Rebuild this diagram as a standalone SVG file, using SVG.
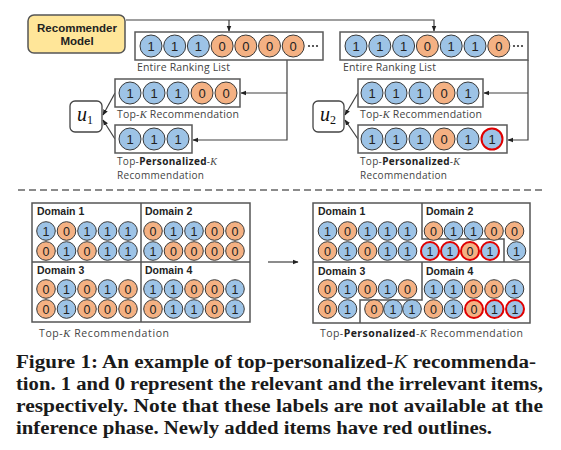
<svg xmlns="http://www.w3.org/2000/svg" width="561" height="450" viewBox="0 0 561 450">
<defs>
<style>
.bx{fill:#fff;stroke:#595959;stroke-width:1.5}
.b{fill:#9DC3E6;stroke:#3a3a3a;stroke-width:1}
.o{fill:#F4B183;stroke:#3a3a3a;stroke-width:1}
.r{stroke:#E00000;stroke-width:2}
.d{font-family:"Liberation Sans",Arial,sans-serif;font-size:13px;text-anchor:middle;fill:#222}
.ds{font-family:"Liberation Sans",Arial,sans-serif;font-size:12.5px;text-anchor:middle;fill:#222}
.lb{font-family:"Open Sans","Liberation Sans",sans-serif;font-size:10.5px;fill:#444}
.lb2{font-family:"Open Sans","Liberation Sans",sans-serif;font-size:10px;fill:#444}
.dm{font-family:"Liberation Sans",Arial,sans-serif;font-size:10.5px;font-weight:bold;fill:#222}
.mk{font-family:"Liberation Serif",serif;font-style:italic;font-weight:normal}
.cap{font-family:"Liberation Serif","Times New Roman",serif;font-size:18px;font-weight:bold;fill:#1a1a1a}
.ln{fill:none;stroke:#404040;stroke-width:1.2}
</style>
<marker id="ah" viewBox="0 0 10 10" refX="9" refY="5" markerWidth="5" markerHeight="5" orient="auto">
<path d="M0,1 L10,5 L0,9 z" fill="#222"/>
</marker>
</defs>
<rect width="561" height="450" fill="#fff"/>

<g id="connectors">
<path class="ln" d="M126,20 H434 V31" marker-end="url(#ah)"/>
<path class="ln" d="M229,20 V31" marker-end="url(#ah)"/>
<path class="ln" d="M287,60 V140 H193" marker-end="url(#ah)"/>
<path class="ln" d="M287,93 H241" marker-end="url(#ah)"/>
<path class="ln" d="M528,60 V140 H508" marker-end="url(#ah)"/>
<path class="ln" d="M528,93 H484" marker-end="url(#ah)"/>
<path class="ln" d="M115,93 L103,115" marker-end="url(#ah)"/>
<path class="ln" d="M115,139 L103,120" marker-end="url(#ah)"/>
<path class="ln" d="M358,93 L345,115" marker-end="url(#ah)"/>
<path class="ln" d="M358,139 L345,120" marker-end="url(#ah)"/>
<path class="ln" d="M268,262 H298" marker-end="url(#ah)"/>
<path d="M18,190 H545" stroke="#666" stroke-width="1.3" stroke-dasharray="7 4" fill="none"/>
</g>

<g id="recommender-model">
<rect x="28" y="15" width="97" height="38" rx="6" fill="#FFE699" stroke="#555" stroke-width="1.5"/>
<text x="77" y="32" text-anchor="middle" style="font-family:'Liberation Sans',Arial,sans-serif;font-size:11.5px;font-weight:bold;fill:#222">Recommender</text>
<text x="77" y="45" text-anchor="middle" style="font-family:'Liberation Sans',Arial,sans-serif;font-size:11.5px;font-weight:bold;fill:#222">Model</text>
</g>

<g id="ranking-list-1">
<rect class="bx" x="135" y="32" width="188" height="28"/>
<circle class="b" cx="151" cy="46" r="11"/><text class="d" x="151" y="50.5">1</text>
<circle class="b" cx="174.7" cy="46" r="11"/><text class="d" x="174.7" y="50.5">1</text>
<circle class="b" cx="198.4" cy="46" r="11"/><text class="d" x="198.4" y="50.5">1</text>
<circle class="o" cx="222.1" cy="46" r="11"/><text class="d" x="222.1" y="50.5">0</text>
<circle class="o" cx="245.8" cy="46" r="11"/><text class="d" x="245.8" y="50.5">0</text>
<circle class="o" cx="269.5" cy="46" r="11"/><text class="d" x="269.5" y="50.5">0</text>
<circle class="o" cx="293.2" cy="46" r="11"/><text class="d" x="293.2" y="50.5">0</text>
<circle cx="309" cy="46" r="1.1" fill="#333"/><circle cx="313" cy="46" r="1.1" fill="#333"/><circle cx="317" cy="46" r="1.1" fill="#333"/>
<text class="lb" x="137" y="71" textLength="93">Entire Ranking List</text>
</g>

<g id="ranking-list-2">
<rect class="bx" x="340" y="32" width="188" height="28"/>
<circle class="b" cx="356" cy="46" r="11"/><text class="d" x="356" y="50.5">1</text>
<circle class="b" cx="379.8" cy="46" r="11"/><text class="d" x="379.8" y="50.5">1</text>
<circle class="b" cx="403.6" cy="46" r="11"/><text class="d" x="403.6" y="50.5">1</text>
<circle class="o" cx="427.4" cy="46" r="11"/><text class="d" x="427.4" y="50.5">0</text>
<circle class="b" cx="451.2" cy="46" r="11"/><text class="d" x="451.2" y="50.5">1</text>
<circle class="b" cx="475" cy="46" r="11"/><text class="d" x="475" y="50.5">1</text>
<circle class="o" cx="498.8" cy="46" r="11"/><text class="d" x="498.8" y="50.5">0</text>
<circle cx="514" cy="46" r="1.1" fill="#333"/><circle cx="518" cy="46" r="1.1" fill="#333"/><circle cx="522" cy="46" r="1.1" fill="#333"/>
<text class="lb" x="343" y="71" textLength="93">Entire Ranking List</text>
</g>

<g id="topk-1">
<rect class="bx" x="115" y="79" width="125" height="28"/>
<circle class="b" cx="130" cy="93" r="11"/><text class="d" x="130" y="97.5">1</text>
<circle class="b" cx="154" cy="93" r="11"/><text class="d" x="154" y="97.5">1</text>
<circle class="b" cx="178" cy="93" r="11"/><text class="d" x="178" y="97.5">1</text>
<circle class="o" cx="202" cy="93" r="11"/><text class="d" x="202" y="97.5">0</text>
<circle class="o" cx="226" cy="93" r="11"/><text class="d" x="226" y="97.5">0</text>
<text class="lb" x="117" y="118" textLength="122">Top-<tspan class="mk">K</tspan> Recommendation</text>
</g>

<g id="toppk-1">
<rect class="bx" x="115" y="125" width="77" height="28"/>
<circle class="b" cx="130" cy="139" r="11"/><text class="d" x="130" y="143.5">1</text>
<circle class="b" cx="154" cy="139" r="11"/><text class="d" x="154" y="143.5">1</text>
<circle class="b" cx="178" cy="139" r="11"/><text class="d" x="178" y="143.5">1</text>
<text class="lb2" x="117" y="165" textLength="100">Top-<tspan font-weight="bold" fill="#222">Personalized</tspan>-<tspan class="mk">K</tspan></text>
<text class="lb2" x="117" y="178.5" textLength="87">Recommendation</text>
</g>

<g id="user-1">
<rect x="70" y="101" width="32" height="31" rx="5" fill="#fff" stroke="#444" stroke-width="1.3"/>
<text x="85" y="121" text-anchor="middle" style="font-family:'Liberation Serif',serif;font-style:italic;font-size:20px;fill:#111">u<tspan font-style="normal" font-size="12" dy="3">1</tspan></text>
</g>

<g id="topk-2">
<rect class="bx" x="358" y="79" width="125" height="28"/>
<circle class="b" cx="372" cy="93" r="11"/><text class="d" x="372" y="97.5">1</text>
<circle class="b" cx="396" cy="93" r="11"/><text class="d" x="396" y="97.5">1</text>
<circle class="b" cx="420" cy="93" r="11"/><text class="d" x="420" y="97.5">1</text>
<circle class="o" cx="444" cy="93" r="11"/><text class="d" x="444" y="97.5">0</text>
<circle class="b" cx="468" cy="93" r="11"/><text class="d" x="468" y="97.5">1</text>
<text class="lb" x="360" y="118" textLength="122">Top-<tspan class="mk">K</tspan> Recommendation</text>
</g>

<g id="toppk-2">
<rect class="bx" x="358" y="125" width="149" height="28"/>
<circle class="b" cx="372" cy="139" r="11"/><text class="d" x="372" y="143.5">1</text>
<circle class="b" cx="396" cy="139" r="11"/><text class="d" x="396" y="143.5">1</text>
<circle class="b" cx="420" cy="139" r="11"/><text class="d" x="420" y="143.5">1</text>
<circle class="o" cx="444" cy="139" r="11"/><text class="d" x="444" y="143.5">0</text>
<circle class="b" cx="468" cy="139" r="11"/><text class="d" x="468" y="143.5">1</text>
<circle class="b r" cx="492" cy="139" r="10.5"/><text class="d" x="492" y="143.5">1</text>
<text class="lb2" x="360" y="165" textLength="100">Top-<tspan font-weight="bold" fill="#222">Personalized</tspan>-<tspan class="mk">K</tspan></text>
<text class="lb2" x="360" y="178.5" textLength="87">Recommendation</text>
</g>

<g id="user-2">
<rect x="313" y="101" width="31" height="31" rx="5" fill="#fff" stroke="#444" stroke-width="1.3"/>
<text x="328" y="121" text-anchor="middle" style="font-family:'Liberation Serif',serif;font-style:italic;font-size:20px;fill:#111">u<tspan font-style="normal" font-size="12" dy="3">2</tspan></text>
</g>

<g id="grid-topk">
<rect x="32" y="203" width="218" height="119" fill="#fff" stroke="#555" stroke-width="1.5"/>
<path d="M141,203 V322 M32,262 H250" stroke="#555" stroke-width="1.5" fill="none"/>
<text class="dm" x="37" y="215">Domain 1</text>
<text class="dm" x="145" y="215">Domain 2</text>
<text class="dm" x="37" y="274">Domain 3</text>
<text class="dm" x="145" y="274">Domain 4</text>
<circle class="b" cx="46" cy="231" r="9.3"/><text class="ds" x="46" y="235.5">1</text>
<circle class="o" cx="66.5" cy="231" r="9.3"/><text class="ds" x="66.5" y="235.5">0</text>
<circle class="b" cx="87" cy="231" r="9.3"/><text class="ds" x="87" y="235.5">1</text>
<circle class="b" cx="107.5" cy="231" r="9.3"/><text class="ds" x="107.5" y="235.5">1</text>
<circle class="b" cx="128" cy="231" r="9.3"/><text class="ds" x="128" y="235.5">1</text>
<circle class="o" cx="153" cy="231" r="9.3"/><text class="ds" x="153" y="235.5">0</text>
<circle class="b" cx="173.5" cy="231" r="9.3"/><text class="ds" x="173.5" y="235.5">1</text>
<circle class="b" cx="194" cy="231" r="9.3"/><text class="ds" x="194" y="235.5">1</text>
<circle class="o" cx="214.5" cy="231" r="9.3"/><text class="ds" x="214.5" y="235.5">0</text>
<circle class="o" cx="235" cy="231" r="9.3"/><text class="ds" x="235" y="235.5">0</text>

<circle class="o" cx="46" cy="251" r="9.3"/><text class="ds" x="46" y="255.5">0</text>
<circle class="b" cx="66.5" cy="251" r="9.3"/><text class="ds" x="66.5" y="255.5">1</text>
<circle class="o" cx="87" cy="251" r="9.3"/><text class="ds" x="87" y="255.5">0</text>
<circle class="b" cx="107.5" cy="251" r="9.3"/><text class="ds" x="107.5" y="255.5">1</text>
<circle class="b" cx="128" cy="251" r="9.3"/><text class="ds" x="128" y="255.5">1</text>
<circle class="b" cx="153" cy="251" r="9.3"/><text class="ds" x="153" y="255.5">1</text>
<circle class="o" cx="173.5" cy="251" r="9.3"/><text class="ds" x="173.5" y="255.5">0</text>
<circle class="o" cx="194" cy="251" r="9.3"/><text class="ds" x="194" y="255.5">0</text>
<circle class="o" cx="214.5" cy="251" r="9.3"/><text class="ds" x="214.5" y="255.5">0</text>
<circle class="o" cx="235" cy="251" r="9.3"/><text class="ds" x="235" y="255.5">0</text>

<circle class="o" cx="46" cy="289" r="9.3"/><text class="ds" x="46" y="293.5">0</text>
<circle class="b" cx="66.5" cy="289" r="9.3"/><text class="ds" x="66.5" y="293.5">1</text>
<circle class="o" cx="87" cy="289" r="9.3"/><text class="ds" x="87" y="293.5">0</text>
<circle class="b" cx="107.5" cy="289" r="9.3"/><text class="ds" x="107.5" y="293.5">1</text>
<circle class="o" cx="128" cy="289" r="9.3"/><text class="ds" x="128" y="293.5">0</text>
<circle class="b" cx="153" cy="289" r="9.3"/><text class="ds" x="153" y="293.5">1</text>
<circle class="b" cx="173.5" cy="289" r="9.3"/><text class="ds" x="173.5" y="293.5">1</text>
<circle class="o" cx="194" cy="289" r="9.3"/><text class="ds" x="194" y="293.5">0</text>
<circle class="o" cx="214.5" cy="289" r="9.3"/><text class="ds" x="214.5" y="293.5">0</text>
<circle class="b" cx="235" cy="289" r="9.3"/><text class="ds" x="235" y="293.5">1</text>

<circle class="o" cx="46" cy="309" r="9.3"/><text class="ds" x="46" y="313.5">0</text>
<circle class="b" cx="66.5" cy="309" r="9.3"/><text class="ds" x="66.5" y="313.5">1</text>
<circle class="o" cx="87" cy="309" r="9.3"/><text class="ds" x="87" y="313.5">0</text>
<circle class="o" cx="107.5" cy="309" r="9.3"/><text class="ds" x="107.5" y="313.5">0</text>
<circle class="o" cx="128" cy="309" r="9.3"/><text class="ds" x="128" y="313.5">0</text>
<circle class="o" cx="153" cy="309" r="9.3"/><text class="ds" x="153" y="313.5">0</text>
<circle class="b" cx="173.5" cy="309" r="9.3"/><text class="ds" x="173.5" y="313.5">1</text>
<circle class="b" cx="194" cy="309" r="9.3"/><text class="ds" x="194" y="313.5">1</text>
<circle class="o" cx="214.5" cy="309" r="9.3"/><text class="ds" x="214.5" y="313.5">0</text>
<circle class="b" cx="235" cy="309" r="9.3"/><text class="ds" x="235" y="313.5">1</text>
<text class="lb" x="39" y="337" font-size="11" textLength="130">Top-<tspan class="mk">K</tspan> Recommendation</text>
</g>

<g id="grid-toppk">
<rect x="313" y="203" width="217" height="120" fill="#fff" stroke="#555" stroke-width="1.5"/>
<path d="M422,203 V239 H504 V262 M313,262 H530 M422,262 V300 H360 V323" stroke="#555" stroke-width="1.5" fill="none"/>
<text class="dm" x="318" y="215">Domain 1</text>
<text class="dm" x="426" y="215">Domain 2</text>
<text class="dm" x="318" y="275">Domain 3</text>
<text class="dm" x="426" y="275">Domain 4</text>
<circle class="b" cx="327.5" cy="231" r="9.3"/><text class="ds" x="327.5" y="235.5">1</text>
<circle class="o" cx="347.5" cy="231" r="9.3"/><text class="ds" x="347.5" y="235.5">0</text>
<circle class="b" cx="367.5" cy="231" r="9.3"/><text class="ds" x="367.5" y="235.5">1</text>
<circle class="b" cx="387.5" cy="231" r="9.3"/><text class="ds" x="387.5" y="235.5">1</text>
<circle class="b" cx="407.5" cy="231" r="9.3"/><text class="ds" x="407.5" y="235.5">1</text>
<circle class="o" cx="433.5" cy="231" r="9.3"/><text class="ds" x="433.5" y="235.5">0</text>
<circle class="b" cx="453.5" cy="231" r="9.3"/><text class="ds" x="453.5" y="235.5">1</text>
<circle class="b" cx="473.5" cy="231" r="9.3"/><text class="ds" x="473.5" y="235.5">1</text>
<circle class="o" cx="494" cy="231" r="9.3"/><text class="ds" x="494" y="235.5">0</text>
<circle class="o" cx="514.5" cy="231" r="9.3"/><text class="ds" x="514.5" y="235.5">0</text>

<circle class="o" cx="327.5" cy="251" r="9.3"/><text class="ds" x="327.5" y="255.5">0</text>
<circle class="b" cx="347.5" cy="251" r="9.3"/><text class="ds" x="347.5" y="255.5">1</text>
<circle class="o" cx="367.5" cy="251" r="9.3"/><text class="ds" x="367.5" y="255.5">0</text>
<circle class="b" cx="387.5" cy="251" r="9.3"/><text class="ds" x="387.5" y="255.5">1</text>
<circle class="b" cx="407.5" cy="251" r="9.3"/><text class="ds" x="407.5" y="255.5">1</text>
<circle class="b r" cx="430" cy="251" r="9"/><text class="ds" x="430" y="255.5">1</text>
<circle class="b r" cx="450" cy="251" r="9"/><text class="ds" x="450" y="255.5">1</text>
<circle class="o r" cx="470" cy="251" r="9"/><text class="ds" x="470" y="255.5">0</text>
<circle class="b r" cx="490" cy="251" r="9"/><text class="ds" x="490" y="255.5">1</text>
<circle class="b" cx="516.5" cy="251" r="9.3"/><text class="ds" x="516.5" y="255.5">1</text>

<circle class="o" cx="327.5" cy="289" r="9.3"/><text class="ds" x="327.5" y="293.5">0</text>
<circle class="b" cx="347.5" cy="289" r="9.3"/><text class="ds" x="347.5" y="293.5">1</text>
<circle class="o" cx="367.5" cy="289" r="9.3"/><text class="ds" x="367.5" y="293.5">0</text>
<circle class="b" cx="387.5" cy="289" r="9.3"/><text class="ds" x="387.5" y="293.5">1</text>
<circle class="o" cx="407.5" cy="289" r="9.3"/><text class="ds" x="407.5" y="293.5">0</text>
<circle class="b" cx="433.5" cy="289" r="9.3"/><text class="ds" x="433.5" y="293.5">1</text>
<circle class="b" cx="453.5" cy="289" r="9.3"/><text class="ds" x="453.5" y="293.5">1</text>
<circle class="o" cx="473.5" cy="289" r="9.3"/><text class="ds" x="473.5" y="293.5">0</text>
<circle class="o" cx="494" cy="289" r="9.3"/><text class="ds" x="494" y="293.5">0</text>
<circle class="b" cx="514.5" cy="289" r="9.3"/><text class="ds" x="514.5" y="293.5">1</text>

<circle class="o" cx="327.5" cy="309" r="9.3"/><text class="ds" x="327.5" y="313.5">0</text>
<circle class="b" cx="347.5" cy="309" r="9.3"/><text class="ds" x="347.5" y="313.5">1</text>
<circle class="o" cx="374" cy="309" r="9.3"/><text class="ds" x="374" y="313.5">0</text>
<circle class="b" cx="393" cy="309" r="9.3"/><text class="ds" x="393" y="313.5">1</text>
<circle class="b" cx="412" cy="309" r="9.3"/><text class="ds" x="412" y="313.5">1</text>
<circle class="o" cx="433.5" cy="309" r="9.3"/><text class="ds" x="433.5" y="313.5">0</text>
<circle class="b" cx="453.5" cy="309" r="9.3"/><text class="ds" x="453.5" y="313.5">1</text>
<circle class="o r" cx="474" cy="309" r="9"/><text class="ds" x="474" y="313.5">0</text>
<circle class="b r" cx="494.5" cy="309" r="9"/><text class="ds" x="494.5" y="313.5">1</text>
<circle class="b r" cx="515" cy="309" r="9"/><text class="ds" x="515" y="313.5">1</text>
<text class="lb" x="320" y="337" font-size="11" textLength="203">Top-<tspan font-weight="bold" fill="#222">Personalized</tspan>-<tspan class="mk">K</tspan> Recommendation</text>
</g>

<g id="caption">
<text class="cap" x="16" y="368" textLength="520" lengthAdjust="spacingAndGlyphs">Figure 1: An example of top-personalized-<tspan class="mk">K</tspan> recommenda-</text>
<text class="cap" x="16" y="390" textLength="527" lengthAdjust="spacingAndGlyphs">tion. 1 and 0 represent the relevant and the irrelevant items,</text>
<text class="cap" x="16" y="412" textLength="527" lengthAdjust="spacingAndGlyphs">respectively. Note that these labels are not available at the</text>
<text class="cap" x="16" y="434" textLength="476" lengthAdjust="spacingAndGlyphs">inference phase. Newly added items have red outlines.</text>
</g>
</svg>
